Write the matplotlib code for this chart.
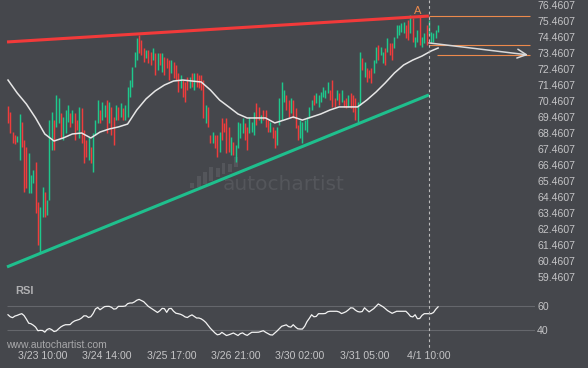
import matplotlib
matplotlib.use('Agg')
import matplotlib.pyplot as plt
from matplotlib.patches import Rectangle
from matplotlib.lines import Line2D
import numpy as np

plt.rcParams['font.family'] = ['Liberation Sans', 'DejaVu Sans']

# ---------------- data ----------------
opens = [
    70.15, 69.77, 68.52, 68.34, 67.90, 66.77, 69.15, 68.02, 67.59, 64.71,
    64.71, 65.34, 66.65, 64.15, 61.02, 63.21, 64.77, 63.34, 64.27, 67.40,
    69.27, 68.84, 69.09, 69.71, 68.02, 68.46, 69.15, 69.71, 69.09, 69.71,
    69.27, 68.15, 70.02, 68.65, 68.02, 66.77, 67.59, 66.02, 68.34, 69.09,
    69.90, 69.27, 69.46, 70.52, 69.09, 70.09, 69.46, 69.27, 70.09, 69.46,
    70.02, 69.27, 69.46, 70.71, 71.34, 72.59, 73.02, 74.59, 74.27, 73.77,
    73.15, 73.65, 73.52, 73.02, 73.46, 72.40, 73.46, 72.27, 73.21, 73.15,
    73.02, 72.21, 72.90, 72.71, 72.21, 71.27, 71.77, 71.65, 71.96, 71.27,
    72.21, 71.15, 72.21, 72.09, 72.09, 71.77, 69.09, 70.09, 68.34, 67.84,
    68.34, 68.34, 67.27, 69.40, 69.09, 69.40, 68.84, 67.09, 67.90, 66.65,
    67.52, 68.15, 68.46, 69.09, 68.84, 68.46, 68.52, 68.34, 70.34, 70.09,
    69.09, 69.90, 69.90, 69.27, 68.52, 68.84, 68.65, 67.71, 68.96, 69.27,
    70.40, 70.84, 70.52, 69.71, 70.52, 70.02, 68.96, 68.15, 67.84, 68.65,
    68.52, 69.40, 69.90, 70.84, 70.34, 70.09, 70.40, 70.71, 70.65, 70.96,
    71.15, 71.77, 70.65, 70.52, 70.96, 70.40, 70.52, 70.65, 70.09, 70.96,
    70.84, 70.65, 69.15, 70.21, 73.15, 71.96, 72.52, 72.40, 72.52, 72.21,
    72.84, 73.96, 73.34, 72.84, 73.77, 73.52, 74.09, 74.09, 73.77, 74.40,
    74.59, 74.77, 74.71, 75.21, 75.52, 74.71, 75.65, 73.84, 74.15, 75.71,
    73.84, 74.09, 75.21, 74.59, 74.09, 74.15, 74.40, 74.77,
]
closes = [
    69.09, 68.46, 67.84, 67.77, 68.27, 69.65, 67.59, 64.77, 65.02, 67.21,
    65.84, 66.15, 63.46, 61.46, 63.84, 65.09, 63.21, 64.27, 69.27, 69.77,
    67.40, 70.84, 70.65, 68.15, 69.46, 69.90, 70.21, 68.84, 69.90, 68.02,
    68.65, 70.09, 67.84, 66.59, 66.96, 68.21, 66.59, 68.46, 69.27, 70.52,
    69.09, 70.40, 70.21, 68.46, 70.40, 68.34, 67.71, 70.21, 69.27, 70.34,
    69.27, 70.21, 71.34, 71.77, 72.59, 73.52, 74.40, 73.46, 73.34, 72.90,
    73.65, 72.84, 72.71, 73.77, 72.09, 73.46, 72.71, 73.46, 72.09, 72.52,
    71.77, 73.02, 71.90, 71.77, 71.02, 72.09, 70.71, 70.40, 71.15, 71.96,
    71.34, 72.21, 71.34, 71.27, 71.15, 69.40, 70.21, 68.84, 67.84, 68.52,
    67.52, 66.96, 68.52, 68.02, 68.52, 67.21, 67.27, 68.21, 67.09, 67.71,
    69.15, 69.09, 69.40, 68.02, 67.40, 69.46, 69.15, 69.77, 68.96, 69.27,
    69.59, 69.27, 68.84, 68.52, 69.15, 68.15, 67.52, 68.84, 70.65, 71.65,
    71.15, 69.90, 69.46, 70.65, 69.40, 68.77, 68.02, 69.27, 69.15, 69.27,
    69.46, 70.09, 70.52, 70.21, 70.96, 70.84, 71.02, 71.34, 71.15, 71.65,
    70.52, 70.09, 70.09, 71.15, 70.21, 71.15, 70.09, 70.02, 70.84, 70.02,
    69.77, 69.27, 70.40, 73.52, 72.40, 72.90, 71.65, 71.90, 71.59, 73.02,
    73.84, 73.02, 73.84, 73.52, 72.71, 74.40, 73.34, 73.02, 74.46, 75.21,
    75.21, 75.34, 75.40, 74.40, 74.27, 75.84, 74.15, 74.46, 74.90, 73.96,
    74.46, 74.71, 73.96, 75.52, 74.77, 74.71, 74.90, 75.21,
]

# moving average read at every 4th candle (plus the last)
ma_index = [0, 4, 8, 12, 16, 20, 24, 28, 32, 36,
            40, 44, 48, 52, 56, 60, 64, 68, 72, 76,
            80, 84, 88, 92, 96, 100, 104, 108, 112, 116,
            120, 124, 128, 132, 136, 140, 144, 148, 152, 156,
            160, 164, 168, 172, 176, 180, 184, 187]
ma_values = [71.77, 70.96, 70.27, 69.40, 68.40, 67.96, 68.15, 68.40, 68.46, 68.15,
             68.52, 68.71, 68.84, 69.02, 69.90, 70.59, 71.09, 71.46, 71.71, 71.77,
             71.71, 71.65, 71.15, 70.52, 70.09, 69.65, 69.40, 69.40, 69.40, 69.09,
             69.27, 69.46, 69.27, 69.46, 69.65, 69.90, 70.09, 70.09, 70.09, 70.52,
             71.02, 71.59, 72.21, 72.71, 73.02, 73.27, 73.59, 73.77]

rsi_values = [
    52.7, 51.0, 50.3, 51.6, 52.2, 53.0, 53.6, 52.0, 49.0, 45.7,
    45.2, 44.0, 42.4, 39.4, 39.7, 39.6, 38.2, 40.4, 41.2, 40.3,
    38.7, 39.2, 41.0, 42.6, 43.7, 44.4, 44.4, 44.5, 46.4, 47.6,
    48.2, 48.8, 50.0, 51.8, 51.8, 50.4, 51.1, 53.7, 57.5, 58.8,
    56.9, 58.2, 59.5, 59.7, 59.7, 58.9, 57.4, 57.7, 59.7, 59.7,
    59.7, 60.0, 61.9, 62.5, 62.5, 63.4, 64.8, 65.5, 64.6, 63.6,
    61.6, 59.7, 58.4, 57.1, 55.9, 54.6, 56.0, 58.0, 57.8, 54.7,
    57.8, 58.0, 55.6, 54.0, 53.6, 53.1, 52.2, 50.9, 50.4, 51.7,
    52.6, 51.3, 50.0, 50.0, 49.3, 48.0, 46.3, 43.8, 41.4, 39.4,
    37.5, 36.0, 36.4, 38.0, 36.7, 35.4, 36.0, 36.8, 37.5, 36.5,
    35.4, 37.0, 37.6, 36.3, 35.5, 36.9, 38.1, 38.1, 38.1, 38.2,
    38.8, 39.4, 38.1, 37.0, 36.0, 35.8, 37.5, 39.2, 41.1, 43.1,
    43.7, 44.3, 42.8, 42.4, 44.4, 42.5, 41.0, 40.8, 40.8, 43.1,
    47.0, 49.7, 52.7, 51.0, 51.3, 53.6, 53.6, 53.6, 53.8, 55.2,
    55.6, 55.6, 55.6, 55.6, 55.0, 53.7, 54.4, 55.3, 56.8, 58.5,
    58.3, 56.6, 55.4, 55.0, 55.4, 58.5, 56.7, 55.1, 56.4, 57.8,
    59.8, 61.7, 60.6, 59.4, 57.9, 56.2, 55.0, 53.9, 54.7, 55.6,
    55.6, 55.6, 55.6, 55.6, 53.7, 51.4, 50.9, 52.7, 49.4, 49.6,
    52.2, 53.6, 53.6, 53.6, 53.6, 54.6, 57.3, 59.3,
]

price_ticks = [59.4607, 60.4607, 61.4607, 62.4607, 63.4607, 64.4607, 65.4607,
               66.4607, 67.4607, 68.4607, 69.4607, 70.4607, 71.4607, 72.4607,
               73.4607, 74.4607, 75.4607, 76.4607]
rsi_ticks = [40, 60]
time_ticks = [15, 43, 71, 99, 127, 155, 183]
time_labels = ['3/23 10:00', '3/24 14:00', '3/25 17:00', '3/26 21:00',
               '3/30 02:00', '3/31 05:00', '4/1 10:00']

resistance_idx = [-0.43, 183]
resistance_price = [74.15, 75.77]
support_idx = [-0.43, 183]
support_price = [60.09, 70.84]

pattern_end = 183
peak_idx = 178.3
level_high = 75.77
level_mid = 73.96
level_target = 73.34
target_start = 186.5
projection_end = 226.1
arrow_start_price = 74.09

# ---------------- style ----------------
BG = '#45474c'
RED = '#f03c3c'
GREEN = '#1ec88c'
TLRED = '#f23a3a'
TLGREEN = '#1fbf8d'
ORANGE = '#ec8a4c'
LABEL = '#c4c4c6'

W, H = 588, 368
fig = plt.figure(figsize=(W / 100, H / 100), dpi=100, facecolor=BG)


def fy(py):
    return 1 - py / H


XMIN, XMAX = -8 / 2.3, 527 / 2.3
ax = fig.add_axes([0, fy(285), 535 / W, 285 / H])
ax.set_facecolor(BG)
ax.set_xlim(XMIN, XMAX)
ax.set_ylim(76.773 - 285 / 16, 76.773)
for s in ax.spines.values():
    s.set_visible(False)

n = len(opens)
xs = np.arange(n)
o = np.array(opens)
c = np.array(closes)
cols = [GREEN if cc >= oo else RED for oo, cc in zip(o, c)]
ax.vlines(xs, np.minimum(o, c), np.maximum(o, c), colors=cols, linewidth=1.05, zorder=2)

ax.plot(ma_index, ma_values, color='#e6e6e6', lw=1.1, zorder=3)
ax.plot(resistance_idx, resistance_price, color=TLRED, lw=2.2, zorder=4, solid_capstyle='butt')
ax.plot(support_idx, support_price, color=TLGREEN, lw=2.2, zorder=4, solid_capstyle='butt')

ax.hlines([level_high, level_mid], pattern_end, projection_end + 0.8, color=ORANGE, lw=0.8, zorder=3)
ax.hlines([level_target], target_start, projection_end + 0.8, color=ORANGE, lw=0.8, zorder=3)
ax.annotate('', xy=(projection_end, level_target), xytext=(pattern_end, arrow_start_price),
            arrowprops=dict(arrowstyle='->,head_length=0.65,head_width=0.32',
                            color='#d8d8d8', lw=1.1, shrinkA=0, shrinkB=0), zorder=5)
ax.text(peak_idx, 76.09, 'A', color=ORANGE, fontsize=8, ha='center', va='center')

ax.set_xticks([])
ax.yaxis.tick_right()
ax.set_yticks(price_ticks)
ax.set_yticklabels(['%.4f' % p for p in price_ticks])
ax.tick_params(axis='y', length=0, pad=1.5, labelsize=7.6, labelcolor=LABEL)

# watermark
ax.text(223 / W, fy(185), 'autochartist', transform=fig.transFigure, fontsize=14.5,
        color='#54565b', family='DejaVu Sans', ha='left', va='center', zorder=0.5)
for bx, top, bot in [(190, 183, 188), (197, 176, 187), (203, 172, 184), (209, 167, 181),
                     (216, 168, 177), (222, 163, 174), (228, 164, 172), (234, 157, 167)]:
    ax.add_patch(Rectangle((bx / W, fy(bot)), 3.5 / W, (bot - top) / H,
                           transform=fig.transFigure, color='#54565b', zorder=0.5, lw=0))

# RSI panel
rax = fig.add_axes([0, fy(345), 535 / W, 55 / H])
rax.set_facecolor(BG)
rax.set_xlim(XMIN, XMAX)
rax.set_ylim(40 - 15 / 1.2, 60 + 16 / 1.2)
for s in rax.spines.values():
    s.set_visible(False)
rax.hlines(rsi_ticks, -0.43, XMAX, color='#65676c', lw=0.8, zorder=1)
rax.plot(xs, rsi_values, color='#f2f2f2', lw=0.9, zorder=3)
rax.yaxis.tick_right()
rax.set_yticks(rsi_ticks)
rax.set_yticklabels([str(t) for t in rsi_ticks])
rax.set_xticks(time_ticks)
rax.set_xticklabels(time_labels)
rax.tick_params(axis='y', length=0, pad=1.5, labelsize=7.6, labelcolor=LABEL)
rax.tick_params(axis='x', length=0, pad=4.5, labelsize=7.6, labelcolor=LABEL)

fig.text(15 / W, fy(291), 'RSI', fontsize=8, fontweight='bold', color='#b0b0b2', ha='left', va='center')
fig.text(6 / W, fy(345), 'www.autochartist.com', fontsize=7.5, color='#a8a8aa', ha='left', va='center')

# dashed vertical line at the pattern end, through both panels
xf = (pattern_end - XMIN) / (XMAX - XMIN) * (535 / W)
fig.add_artist(Line2D([xf, xf], [fy(0), fy(350)], color='#bdbdbd', lw=0.8, ls=(0, (2.5, 2.5))))

fig.savefig('out.png', dpi=100, facecolor=BG)
